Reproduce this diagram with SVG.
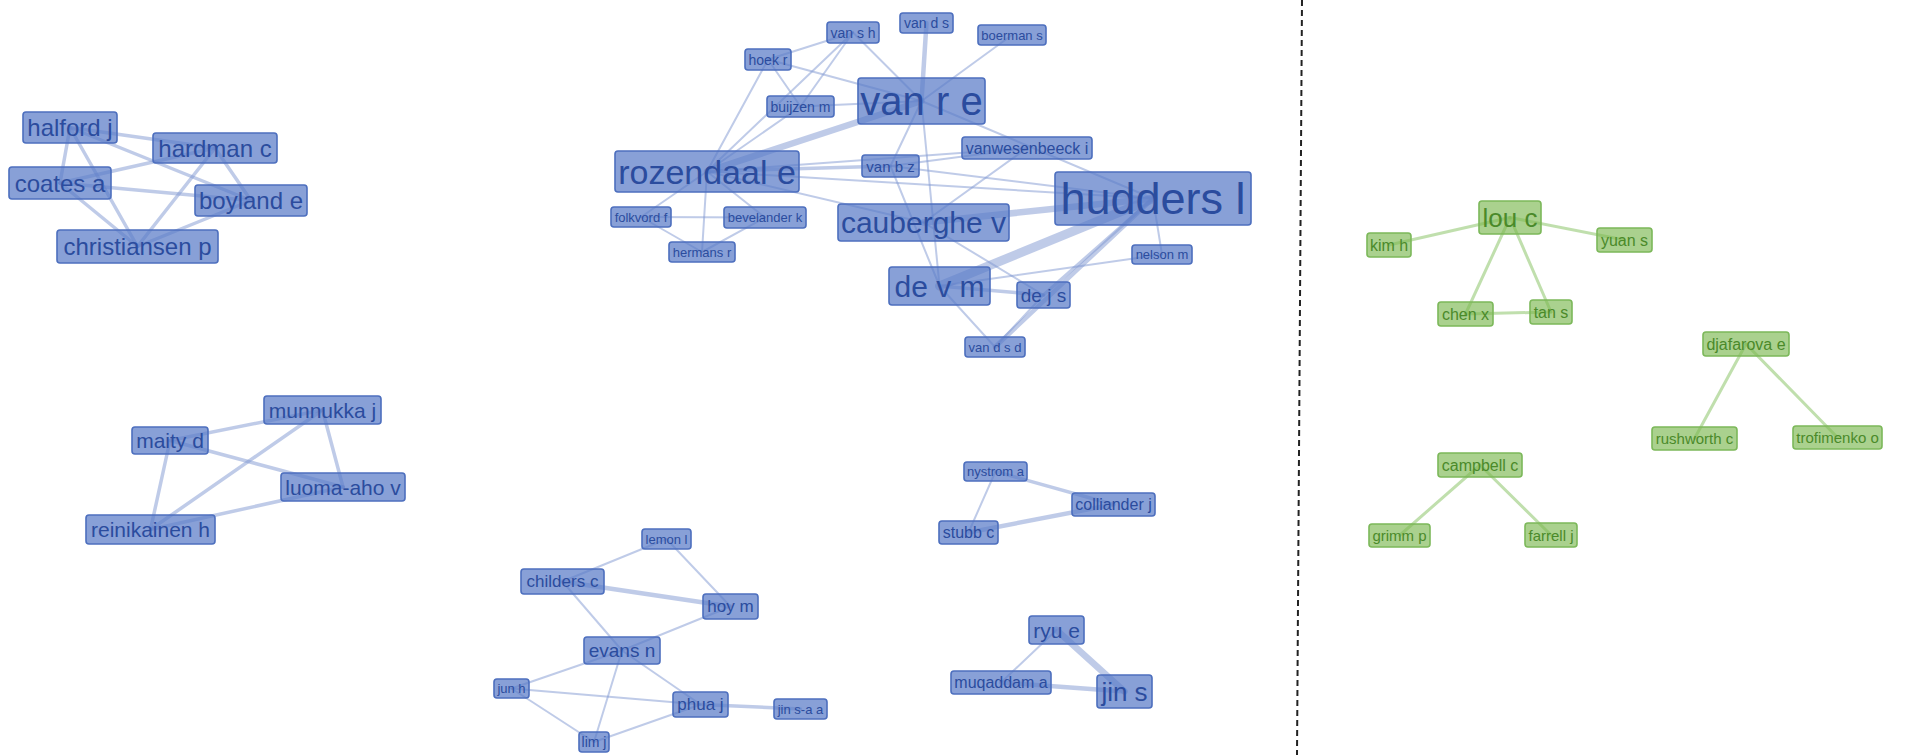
<svg xmlns="http://www.w3.org/2000/svg" width="1910" height="755" viewBox="0 0 1910 755">
<style>
  .e line { stroke: #7f98d2; stroke-opacity: 0.5; stroke-width: 2; stroke-linecap: round; fill: none; }
  .e line.w3 { stroke-width: 3.5; }
  .e line.w4 { stroke-width: 4.5; }
  .e line.w6 { stroke-width: 6.5; }
  .e line.w9 { stroke-width: 9; }
  .eg line { stroke: #8cc46a; stroke-opacity: 0.55; stroke-width: 3; stroke-linecap: round; }
  .nb rect { fill: #5a7cc8; fill-opacity: 0.72; stroke: #4d6fbe; stroke-width: 1.6; }
  .nb text { fill: #2b4c9e; }
  .ng rect { fill: #7cb852; fill-opacity: 0.65; stroke: #7cb85a; stroke-width: 1.6; }
  .ng text { fill: #4a8a2a; }
  text { font-family: "Liberation Sans", Arial, sans-serif; text-anchor: middle; dominant-baseline: central; }
  .f13 { font-size: 13px; } .f14 { font-size: 14px; } .f15 { font-size: 15px; } .f16 { font-size: 16px; }
  .f17 { font-size: 17px; } .f19 { font-size: 19px; } .f21 { font-size: 21px; } .f24 { font-size: 24px; }
  .f26 { font-size: 26px; } .f30 { font-size: 30px; } .f34 { font-size: 34px; } .f40 { font-size: 40px; } .f45 { font-size: 45px; }
  .divider { stroke: #222; stroke-width: 2; stroke-dasharray: 6 4; }
</style>

<!-- connectors -->
<g id="connectors">
  <g class="e">
    <!-- halford cluster -->
    <line class="w3" x1="70" y1="127.5" x2="215" y2="148"/>
    <line class="w3" x1="70" y1="127.5" x2="60" y2="183"/>
    <line class="w3" x1="70" y1="127.5" x2="251" y2="200.5"/>
    <line class="w3" x1="70" y1="127.5" x2="137.5" y2="246.5"/>
    <line class="w3" x1="215" y1="148" x2="60" y2="183"/>
    <line class="w3" x1="215" y1="148" x2="251" y2="200.5"/>
    <line class="w3" x1="215" y1="148" x2="137.5" y2="246.5"/>
    <line class="w3" x1="60" y1="183" x2="251" y2="200.5"/>
    <line class="w3" x1="60" y1="183" x2="137.5" y2="246.5"/>
    <line class="w3" x1="251" y1="200.5" x2="137.5" y2="246.5"/>
    <!-- maity cluster -->
    <line class="w3" x1="170" y1="440.5" x2="322.5" y2="410"/>
    <line class="w3" x1="170" y1="440.5" x2="343" y2="487"/>
    <line class="w3" x1="170" y1="440.5" x2="150.5" y2="529.5"/>
    <line class="w3" x1="322.5" y1="410" x2="343" y2="487"/>
    <line class="w3" x1="322.5" y1="410" x2="150.5" y2="529.5"/>
    <line class="w3" x1="343" y1="487" x2="150.5" y2="529.5"/>
    <!-- hudders cluster -->
    <line x1="768" y1="59.5" x2="853" y2="32.5"/>
    <line x1="768" y1="59.5" x2="921.5" y2="101"/>
    <line x1="768" y1="59.5" x2="800.5" y2="106.5"/>
    <line x1="768" y1="59.5" x2="707" y2="171.5"/>
    <line x1="853" y1="32.5" x2="800.5" y2="106.5"/>
    <line x1="853" y1="32.5" x2="707" y2="171.5"/>
    <line x1="853" y1="32.5" x2="921.5" y2="101"/>
    <line x1="800.5" y1="106.5" x2="921.5" y2="101"/>
    <line x1="800.5" y1="106.5" x2="707" y2="171.5"/>
    <line class="w6" x1="707" y1="171.5" x2="921.5" y2="101"/>
    <line class="w4" x1="926.5" y1="23" x2="921.5" y2="101"/>
    <line x1="1012" y1="35" x2="921.5" y2="101"/>
    <line x1="921.5" y1="101" x2="890.5" y2="166"/>
    <line x1="921.5" y1="101" x2="939.5" y2="286"/>
    <line x1="921.5" y1="101" x2="1153" y2="198.5"/>
    <line class="w3" x1="707" y1="171.5" x2="890.5" y2="166"/>
    <line x1="707" y1="171.5" x2="1027" y2="148"/>
    <line x1="707" y1="171.5" x2="1153" y2="198.5"/>
    <line x1="707" y1="171.5" x2="923.5" y2="222.5"/>
    <line x1="890.5" y1="166" x2="1027" y2="148"/>
    <line x1="890.5" y1="166" x2="1153" y2="198.5"/>
    <line x1="890.5" y1="166" x2="939.5" y2="286"/>
    <line x1="1027" y1="148" x2="923.5" y2="222.5"/>
    <line class="w6" x1="923.5" y1="222.5" x2="1153" y2="198.5"/>
    <line class="w9" x1="1153" y1="198.5" x2="939.5" y2="286"/>
    <line class="w3" x1="1153" y1="198.5" x2="1043.5" y2="295"/>
    <line class="w4" x1="1153" y1="198.5" x2="995" y2="347"/>
    <line x1="1153" y1="198.5" x2="1162" y2="254.5"/>
    <line x1="1162" y1="254.5" x2="939.5" y2="286"/>
    <line class="w3" x1="939.5" y1="286" x2="1043.5" y2="295"/>
    <line x1="923.5" y1="222.5" x2="1043.5" y2="295"/>
    <line x1="939.5" y1="286" x2="995" y2="347"/>
    <line x1="1043.5" y1="295" x2="995" y2="347"/>
    <line x1="707" y1="171.5" x2="641" y2="217"/>
    <line x1="707" y1="171.5" x2="765" y2="217.5"/>
    <line x1="707" y1="171.5" x2="702" y2="252"/>
    <line x1="641" y1="217" x2="765" y2="217.5"/>
    <line x1="641" y1="217" x2="702" y2="252"/>
    <line x1="765" y1="217.5" x2="702" y2="252"/>
    <!-- childers cluster -->
    <line x1="666.5" y1="539" x2="562.5" y2="581.5"/>
    <line x1="666.5" y1="539" x2="730.5" y2="606.5"/>
    <line class="w4" x1="562.5" y1="581.5" x2="730.5" y2="606.5"/>
    <line x1="562.5" y1="581.5" x2="622" y2="650.5"/>
    <line x1="730.5" y1="606.5" x2="622" y2="650.5"/>
    <line x1="622" y1="650.5" x2="511.5" y2="688.5"/>
    <line x1="622" y1="650.5" x2="700.5" y2="704.5"/>
    <line x1="622" y1="650.5" x2="594" y2="742"/>
    <line x1="511.5" y1="688.5" x2="700.5" y2="704.5"/>
    <line x1="511.5" y1="688.5" x2="594" y2="742"/>
    <line x1="700.5" y1="704.5" x2="594" y2="742"/>
    <line class="w3" x1="700.5" y1="704.5" x2="800.5" y2="709"/>
    <!-- nystrom / ryu clusters -->
    <line class="w3" x1="995.5" y1="471.5" x2="1113.5" y2="504.5"/>
    <line x1="995.5" y1="471.5" x2="968.5" y2="532.5"/>
    <line class="w4" x1="968.5" y1="532.5" x2="1113.5" y2="504.5"/>
    <line x1="1056.5" y1="630" x2="1001" y2="682.5"/>
    <line class="w6" x1="1056.5" y1="630" x2="1124.5" y2="691.5"/>
    <line class="w4" x1="1001" y1="682.5" x2="1124.5" y2="691.5"/>
  </g>
  <g class="eg">
    <line x1="1510" y1="217.5" x2="1389" y2="245"/>
    <line x1="1510" y1="217.5" x2="1624.5" y2="240"/>
    <line x1="1510" y1="217.5" x2="1465.5" y2="314"/>
    <line x1="1510" y1="217.5" x2="1551" y2="312"/>
    <line x1="1465.5" y1="314" x2="1551" y2="312"/>
    <line x1="1746" y1="344" x2="1694.5" y2="438.5"/>
    <line x1="1746" y1="344" x2="1837.5" y2="437.5"/>
    <line x1="1480" y1="465" x2="1399.5" y2="535.5"/>
    <line x1="1480" y1="465" x2="1551" y2="535"/>
  </g>
</g>

<line class="divider" x1="1302" y1="0" x2="1297" y2="755"/>

<!-- blue nodes -->
<g id="n-halford-j" class="nb"><rect x="23" y="112" width="94" height="31" rx="3"/><text class="f24" x="70" y="127.5">halford j</text></g>
<g id="n-hardman-c" class="nb"><rect x="153" y="133" width="124" height="30" rx="3"/><text class="f24" x="215" y="148">hardman c</text></g>
<g id="n-coates-a" class="nb"><rect x="9" y="167" width="102" height="32" rx="3"/><text class="f24" x="60" y="183">coates a</text></g>
<g id="n-boyland-e" class="nb"><rect x="195" y="185" width="112" height="31" rx="3"/><text class="f24" x="251" y="200.5">boyland e</text></g>
<g id="n-christiansen-p" class="nb"><rect x="57" y="230" width="161" height="33" rx="3"/><text class="f24" x="137.5" y="246.5">christiansen p</text></g>

<g id="n-munnukka-j" class="nb"><rect x="264" y="396" width="117" height="28" rx="3"/><text class="f21" x="322.5" y="410">munnukka j</text></g>
<g id="n-maity-d" class="nb"><rect x="132" y="427" width="76" height="27" rx="3"/><text class="f21" x="170" y="440.5">maity d</text></g>
<g id="n-luoma-aho-v" class="nb"><rect x="281" y="473" width="124" height="28" rx="3"/><text class="f21" x="343" y="487">luoma-aho v</text></g>
<g id="n-reinikainen-h" class="nb"><rect x="86" y="515" width="129" height="29" rx="3"/><text class="f21" x="150.5" y="529.5">reinikainen h</text></g>

<g id="n-van-s-h" class="nb"><rect x="827" y="22" width="52" height="21" rx="3"/><text class="f14" x="853" y="32.5">van s h</text></g>
<g id="n-hoek-r" class="nb"><rect x="745" y="49" width="46" height="21" rx="3"/><text class="f14" x="768" y="59.5">hoek r</text></g>
<g id="n-buijzen-m" class="nb"><rect x="767" y="96" width="67" height="21" rx="3"/><text class="f14" x="800.5" y="106.5">buijzen m</text></g>
<g id="n-van-d-s" class="nb"><rect x="900" y="13" width="53" height="20" rx="3"/><text class="f14" x="926.5" y="23">van d s</text></g>
<g id="n-boerman-s" class="nb"><rect x="978" y="25" width="68" height="20" rx="3"/><text class="f13" x="1012" y="35">boerman s</text></g>
<g id="n-van-r-e" class="nb"><rect x="858" y="78" width="127" height="46" rx="3"/><text class="f40" x="921.5" y="101">van r e</text></g>
<g id="n-rozendaal-e" class="nb"><rect x="615" y="151" width="184" height="41" rx="3"/><text class="f34" x="707" y="171.5">rozendaal e</text></g>
<g id="n-van-b-z" class="nb"><rect x="862" y="155" width="57" height="22" rx="3"/><text class="f15" x="890.5" y="166">van b z</text></g>
<g id="n-vanwesenbeeck-i" class="nb"><rect x="962" y="137" width="130" height="22" rx="3"/><text class="f16" x="1027" y="148">vanwesenbeeck i</text></g>
<g id="n-hudders-l" class="nb"><rect x="1055" y="172" width="196" height="53" rx="3"/><text class="f45" x="1153" y="198.5">hudders l</text></g>
<g id="n-cauberghe-v" class="nb"><rect x="838" y="204" width="171" height="37" rx="3"/><text class="f30" x="923.5" y="222.5">cauberghe v</text></g>
<g id="n-de-v-m" class="nb"><rect x="889" y="267" width="101" height="38" rx="3"/><text class="f30" x="939.5" y="286">de v m</text></g>
<g id="n-de-j-s" class="nb"><rect x="1017" y="282" width="53" height="26" rx="3"/><text class="f19" x="1043.5" y="295">de j s</text></g>
<g id="n-van-d-s-d" class="nb"><rect x="965" y="337" width="60" height="20" rx="3"/><text class="f13" x="995" y="347">van d s d</text></g>
<g id="n-nelson-m" class="nb"><rect x="1132" y="245" width="60" height="19" rx="3"/><text class="f13" x="1162" y="254.5">nelson m</text></g>
<g id="n-folkvord-f" class="nb"><rect x="611" y="207" width="60" height="20" rx="3"/><text class="f13" x="641" y="217">folkvord f</text></g>
<g id="n-bevelander-k" class="nb"><rect x="724" y="207" width="82" height="21" rx="3"/><text class="f13" x="765" y="217.5">bevelander k</text></g>
<g id="n-hermans-r" class="nb"><rect x="669" y="242" width="66" height="20" rx="3"/><text class="f13" x="702" y="252">hermans r</text></g>

<g id="n-lemon-l" class="nb"><rect x="642" y="529" width="49" height="20" rx="3"/><text class="f13" x="666.5" y="539">lemon l</text></g>
<g id="n-childers-c" class="nb"><rect x="521" y="569" width="83" height="25" rx="3"/><text class="f17" x="562.5" y="581.5">childers c</text></g>
<g id="n-hoy-m" class="nb"><rect x="703" y="594" width="55" height="25" rx="3"/><text class="f17" x="730.5" y="606.5">hoy m</text></g>
<g id="n-evans-n" class="nb"><rect x="584" y="637" width="76" height="27" rx="3"/><text class="f19" x="622" y="650.5">evans n</text></g>
<g id="n-jun-h" class="nb"><rect x="494" y="679" width="35" height="19" rx="3"/><text class="f13" x="511.5" y="688.5">jun h</text></g>
<g id="n-phua-j" class="nb"><rect x="673" y="692" width="55" height="25" rx="3"/><text class="f17" x="700.5" y="704.5">phua j</text></g>
<g id="n-jin-s-a-a" class="nb"><rect x="774" y="699" width="53" height="20" rx="3"/><text class="f13" x="800.5" y="709">jin s-a a</text></g>
<g id="n-lim-j" class="nb"><rect x="579" y="732" width="30" height="20" rx="3"/><text class="f14" x="594" y="742">lim j</text></g>

<g id="n-nystrom-a" class="nb"><rect x="964" y="462" width="63" height="19" rx="3"/><text class="f13" x="995.5" y="471.5">nystrom a</text></g>
<g id="n-colliander-j" class="nb"><rect x="1072" y="493" width="83" height="23" rx="3"/><text class="f16" x="1113.5" y="504.5">colliander j</text></g>
<g id="n-stubb-c" class="nb"><rect x="939" y="521" width="59" height="23" rx="3"/><text class="f16" x="968.5" y="532.5">stubb c</text></g>
<g id="n-ryu-e" class="nb"><rect x="1029" y="616" width="55" height="28" rx="3"/><text class="f21" x="1056.5" y="630">ryu e</text></g>
<g id="n-muqaddam-a" class="nb"><rect x="951" y="671" width="100" height="23" rx="3"/><text class="f16" x="1001" y="682.5">muqaddam a</text></g>
<g id="n-jin-s" class="nb"><rect x="1097" y="675" width="55" height="33" rx="3"/><text class="f26" x="1124.5" y="691.5">jin s</text></g>

<!-- green nodes -->
<g id="n-lou-c" class="ng"><rect x="1479" y="201" width="62" height="33" rx="3"/><text class="f26" x="1510" y="217.5">lou c</text></g>
<g id="n-kim-h" class="ng"><rect x="1367" y="233" width="44" height="24" rx="3"/><text class="f16" x="1389" y="245">kim h</text></g>
<g id="n-yuan-s" class="ng"><rect x="1597" y="228" width="55" height="24" rx="3"/><text class="f16" x="1624.5" y="240">yuan s</text></g>
<g id="n-chen-x" class="ng"><rect x="1438" y="302" width="55" height="24" rx="3"/><text class="f16" x="1465.5" y="314">chen x</text></g>
<g id="n-tan-s" class="ng"><rect x="1530" y="300" width="42" height="24" rx="3"/><text class="f16" x="1551" y="312">tan s</text></g>
<g id="n-djafarova-e" class="ng"><rect x="1703" y="332" width="86" height="24" rx="3"/><text class="f16" x="1746" y="344">djafarova e</text></g>
<g id="n-rushworth-c" class="ng"><rect x="1652" y="427" width="85" height="23" rx="3"/><text class="f15" x="1694.5" y="438.5">rushworth c</text></g>
<g id="n-trofimenko-o" class="ng"><rect x="1793" y="426" width="89" height="23" rx="3"/><text class="f15" x="1837.5" y="437.5">trofimenko o</text></g>
<g id="n-campbell-c" class="ng"><rect x="1438" y="453" width="84" height="24" rx="3"/><text class="f16" x="1480" y="465">campbell c</text></g>
<g id="n-grimm-p" class="ng"><rect x="1369" y="524" width="61" height="23" rx="3"/><text class="f15" x="1399.5" y="535.5">grimm p</text></g>
<g id="n-farrell-j" class="ng"><rect x="1525" y="523" width="52" height="24" rx="3"/><text class="f15" x="1551" y="535">farrell j</text></g>
</svg>
